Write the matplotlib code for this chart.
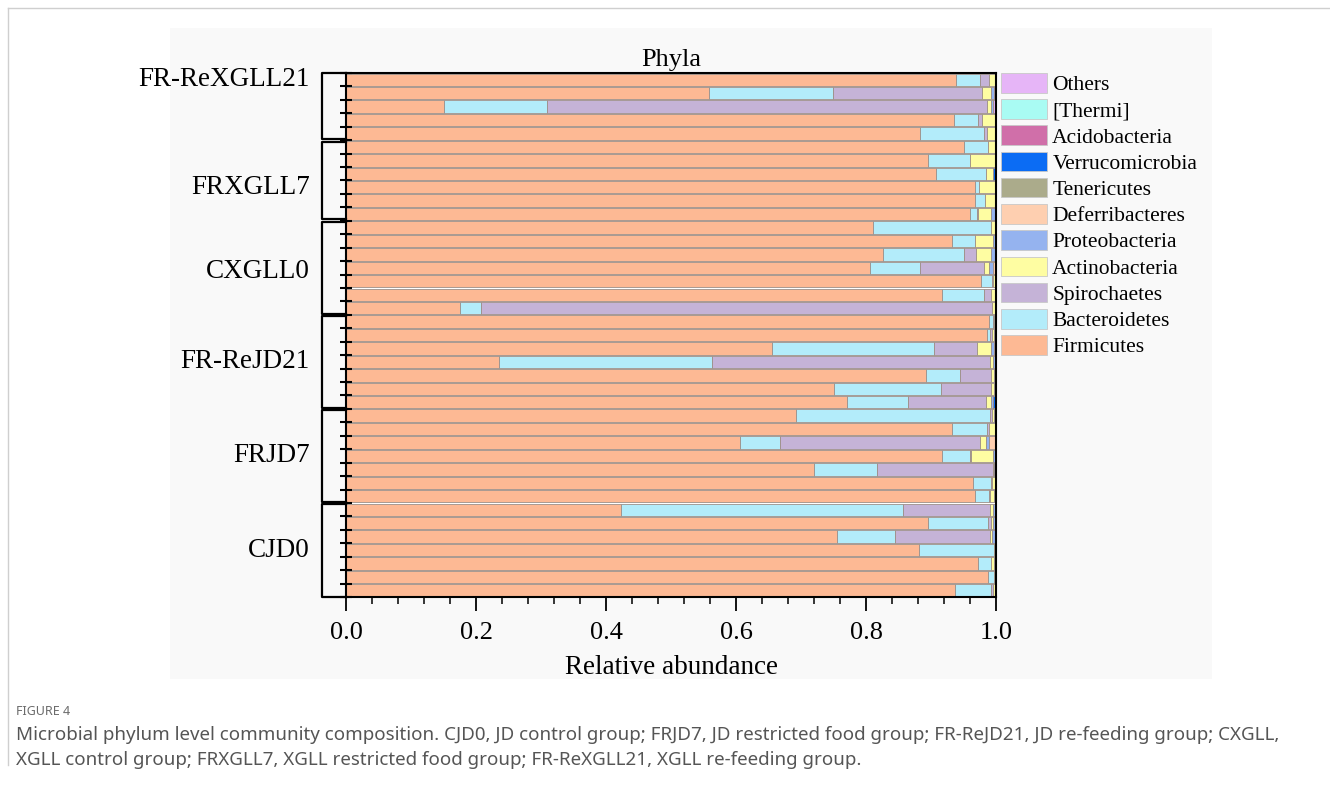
import numpy as np
import matplotlib
matplotlib.use('Agg')
import matplotlib.pyplot as plt
from matplotlib.patches import Rectangle
from matplotlib.lines import Line2D
import matplotlib.transforms as mtransforms

# 分组名称（从上到下）以及每组样本数
groups = ['FR-ReXGLL21', 'FRXGLL7', 'CXGLL0', 'FR-ReJD21', 'FRJD7', 'CJD0']
group_sizes = [5, 6, 7, 7, 7, 7]

phyla = ['Firmicutes', 'Bacteroidetes', 'Spirochaetes', 'Actinobacteria',
         'Proteobacteria', 'Deferribacteres', 'Tenericutes', 'Verrucomicrobia',
         'Acidobacteria', '[Thermi]', 'Others']
colors = ['#FDB994', '#B3ECFA', '#C5B3D7', '#FEFDA2', '#95B3EF', '#FECFB0',
          '#ABAB8B', '#0B6CF4', '#D06FA9', '#A9FBF3', '#E6B5F7']

# 每个样本的相对丰度（从上到下，39个样本）
firmicutes = [0.938, 0.559, 0.150, 0.935, 0.883,
              0.950, 0.896, 0.907, 0.967, 0.967, 0.960,
              0.811, 0.932, 0.826, 0.806, 0.977, 0.917, 0.176,
              0.989, 0.986, 0.655, 0.236, 0.892, 0.751, 0.770,
              0.692, 0.932, 0.606, 0.917, 0.720, 0.965, 0.968,
              0.423, 0.895, 0.756, 0.882, 0.973, 0.988, 0.937]
bacteroidetes = [0.038, 0.190, 0.159, 0.038, 0.098,
                 0.038, 0.064, 0.077, 0.007, 0.016, 0.011,
                 0.181, 0.035, 0.124, 0.077, 0.017, 0.064, 0.032,
                 0.006, 0.005, 0.250, 0.327, 0.052, 0.165, 0.094,
                 0.298, 0.054, 0.061, 0.043, 0.097, 0.027, 0.021,
                 0.434, 0.092, 0.088, 0.115, 0.020, 0.009, 0.056]
spirochaetes = [0.013, 0.230, 0.677, 0.006, 0.005,
                0.000, 0.000, 0.000, 0.000, 0.000, 0.002,
                0.000, 0.000, 0.019, 0.098, 0.002, 0.011, 0.786,
                0.002, 0.003, 0.066, 0.428, 0.049, 0.076, 0.121,
                0.004, 0.003, 0.309, 0.002, 0.178, 0.002, 0.002,
                0.134, 0.005, 0.146, 0.000, 0.000, 0.000, 0.002]
actinobacteria = [0.009, 0.013, 0.006, 0.019, 0.012,
                  0.011, 0.039, 0.011, 0.025, 0.016, 0.019,
                  0.007, 0.028, 0.023, 0.008, 0.002, 0.006, 0.004,
                  0.002, 0.003, 0.022, 0.004, 0.004, 0.005, 0.008,
                  0.003, 0.009, 0.008, 0.034, 0.002, 0.004, 0.006,
                  0.005, 0.004, 0.004, 0.002, 0.004, 0.002, 0.003]
proteobacteria = [0.002, 0.005, 0.003, 0.002, 0.002,
                  0.001, 0.001, 0.000, 0.001, 0.001, 0.007,
                  0.001, 0.005, 0.008, 0.007, 0.002, 0.002, 0.002,
                  0.001, 0.003, 0.004, 0.005, 0.003, 0.003, 0.002,
                  0.003, 0.002, 0.005, 0.004, 0.003, 0.002, 0.003,
                  0.004, 0.004, 0.006, 0.001, 0.003, 0.001, 0.002]
deferribacteres = [0.0] * 14 + [0.004] + [0.0] * 5 + [0.003] + [0.0] * 6 + [0.011] + [0.0] * 11
tenericutes = [0.0] * 10 + [0.001] + [0.0] * 28
verrucomicrobia = [0.0] * 7 + [0.005] + [0.0] * 16 + [0.005] + [0.0] * 14
acidobacteria = [0.0] * 39
thermi = [0.0] * 39
others = [0.0, 0.003, 0.005] + [0.0] * 36

data = np.array([firmicutes, bacteroidetes, spirochaetes, actinobacteria,
                 proteobacteria, deferribacteres, tenericutes, verrucomicrobia,
                 acidobacteria, thermi, others])

plt.rcParams['font.family'] = ['Liberation Serif', 'DejaVu Serif']

fig = plt.figure(figsize=(13.3, 7.89), dpi=100)
# 原图的浅灰底色和外框
fig.patches.append(Rectangle((0.128, 0.14), 0.783, 0.825, transform=fig.transFigure,
                             facecolor='#f9f9f9', edgecolor='none', zorder=-10))
fig.add_artist(Line2D([0.006, 0.006], [0.03, 0.99], transform=fig.transFigure,
                      color='#cfcfcf', lw=1))
fig.add_artist(Line2D([0.006, 1.0], [0.99, 0.99], transform=fig.transFigure,
                      color='#cfcfcf', lw=1))

ax = fig.add_axes([0.2602, 0.2433, 0.4887, 0.6642])
ax.set_facecolor('white')

n = data.shape[1]
ypos = np.arange(n)
left = np.zeros(n)
for i in range(len(phyla)):
    ax.barh(ypos, data[i], left=left, height=0.92, color=colors[i],
            edgecolor='#9c8f88', linewidth=0.6, label=phyla[i])
    left += data[i]

ax.set_xlim(0, 1.0)
ax.set_ylim(n - 0.5, -0.5)
ax.set_xticks(np.arange(0, 1.01, 0.2))
ax.set_xticklabels(['0.0', '0.2', '0.4', '0.6', '0.8', '1.0'], fontsize=19)
ax.set_xticks(np.arange(0, 1.001, 0.04), minor=True)
ax.tick_params(axis='x', which='major', direction='out', length=10, width=1.3, pad=8)
ax.tick_params(axis='x', which='minor', direction='out', length=5, width=1.1)
ax.set_yticks(np.arange(-0.5, n, 1.0))
ax.set_yticklabels([])
ax.tick_params(axis='y', which='major', direction='inout', length=9, width=1.5)
for s in ax.spines.values():
    s.set_linewidth(1.5)
    s.set_color('black')

ax.set_xlabel('Relative abundance', fontsize=19.5, labelpad=8)
ax.set_title('Phyla', fontsize=19, pad=5)

# 左侧分组括号和组名
trans = mtransforms.blended_transform_factory(ax.transAxes, ax.transData)
label_rows = [0, 8, 14.3, 21, 28, 35]
start = 0
for g, size, ly in zip(groups, group_sizes, label_rows):
    top = start - 0.5 + 0.1
    bot = start + size - 0.5 - 0.1
    if start == 0:
        top = -0.5
    if start + size == n:
        bot = n - 0.5
    xs = [0, -0.037, -0.037, 0]
    ys = [top, top, bot, bot]
    ax.add_line(Line2D(xs, ys, transform=trans, color='black', lw=1.6, clip_on=False))
    ax.text(-0.056, ly, g, transform=trans, ha='right', va='center', fontsize=19.5)
    start += size

handles, labels = ax.get_legend_handles_labels()
leg = ax.legend(handles[::-1], labels[::-1], loc='upper left', bbox_to_anchor=(1.008, 1.0),
                frameon=False, fontsize=15.5, handlelength=2.14, handleheight=1.02,
                labelspacing=0.19, handletextpad=0.23, borderpad=0, borderaxespad=0)
for p in leg.get_patches():
    p.set_edgecolor('#c8c8c8')

# 图注
cap_font = ['Noto Sans', 'DejaVu Sans']
fig.text(0.012, 0.0976, 'FIGURE 4', fontsize=9, color='#6b6b6b', family=cap_font, va='center')
fig.text(0.012, 0.0684, 'Microbial phylum level community composition. CJD0, JD control group; '
         'FRJD7, JD restricted food group; FR-ReJD21, JD re-feeding group; CXGLL,',
         fontsize=13.5, color='#555555', family=cap_font, va='center')
fig.text(0.012, 0.0368, 'XGLL control group; FRXGLL7, XGLL restricted food group; '
         'FR-ReXGLL21, XGLL re-feeding group.',
         fontsize=13.5, color='#555555', family=cap_font, va='center')

fig.savefig('out.png', dpi=100)
